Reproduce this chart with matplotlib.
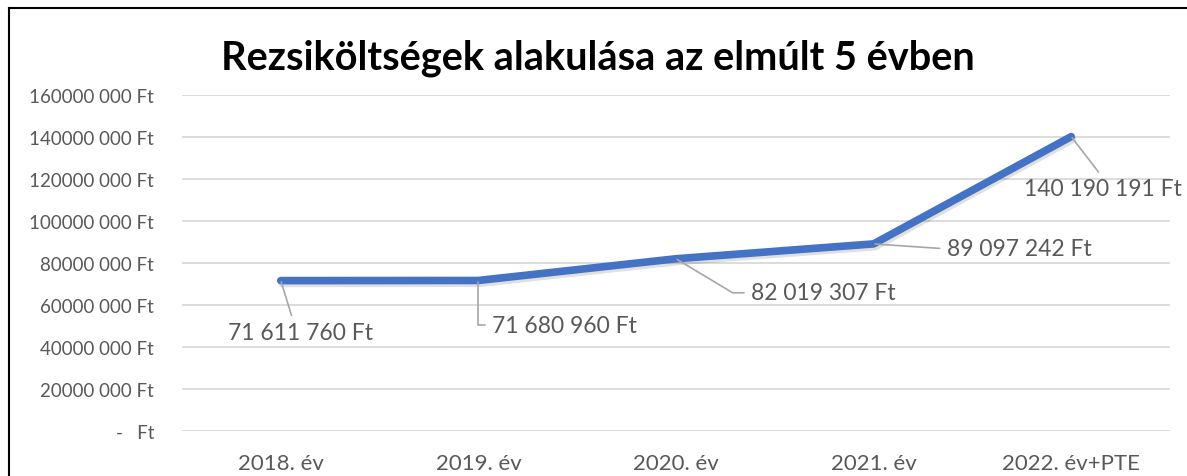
import numpy as np
import matplotlib
matplotlib.use("Agg")
import matplotlib.pyplot as plt
import matplotlib.patheffects as pe
from matplotlib.lines import Line2D

plt.rcParams.update({
    "font.family": ["Lato", "DejaVu Sans"],
    "figure.dpi": 100,
})

# data
years = ["2018. év", "2019. év", "2020. év", "2021. év", "2022. év+PTE"]
costs = [71611760, 71680960, 82019307, 89097242, 140190191]
cost_labels = ["71 611 760 Ft", "71 680 960 Ft", "82 019 307 Ft",
               "89 097 242 Ft", "140 190 191 Ft"]
y_ticks = [0, 20e6, 40e6, 60e6, 80e6, 100e6, 120e6, 140e6, 160e6]
y_tick_labels = ["-   Ft", "20000 000 Ft", "40000 000 Ft", "60000 000 Ft",
                 "80000 000 Ft", "100000 000 Ft", "120000 000 Ft",
                 "140000 000 Ft", "160000 000 Ft"]

# label placement: (offset px, horizontal align, relpos, connection style)
label_style = [
    ((20, -52), "center", (0.45, 1.0), "arc3"),
    ((14, -45), "left", (0.0, 0.5), "angle,angleA=0,angleB=90,rad=0"),
    ((75, -34), "left", (0.0, 0.5), "angle,angleA=0,angleB=-31,rad=0"),
    ((73, -5), "left", (0.0, 0.5), "arc3"),
    ((32, -52), "center", (0.5, 1.0), "arc3"),
]

TXT = "#595959"
W, H = 1187, 477
fig = plt.figure(figsize=(W / 100, H / 100), dpi=100)
ax = fig.add_axes([182 / W, 1 - 432 / H, (1170 - 182) / W, (432 - 96) / H])

x = np.arange(len(years))
ax.plot(x, costs, color="#4472C4", lw=5.5, solid_capstyle="round",
        solid_joinstyle="round", zorder=3,
        path_effects=[pe.SimpleLineShadow(offset=(1, -2), shadow_color="k", alpha=0.12),
                      pe.Normal()])

for xi, yi, lab, (off, ha, rel, conn) in zip(x, costs, cost_labels, label_style):
    ax.annotate(lab, xy=(xi, yi), xytext=off, textcoords="offset pixels",
                ha=ha, va="center", fontsize=16.5, color=TXT,
                arrowprops=dict(arrowstyle="-", color="#A6A6A6", lw=1.2,
                                relpos=rel, shrinkA=3, shrinkB=1,
                                connectionstyle=conn))

ax.set_xlim(-0.5, len(years) - 0.5)
ax.set_ylim(0, 160e6)
ax.set_yticks(y_ticks)
ax.set_yticklabels(y_tick_labels)
ax.set_xticks(x)
ax.set_xticklabels(years)
ax.tick_params(axis="both", length=0, labelcolor=TXT)
ax.tick_params(axis="y", pad=20, labelsize=13.5)
ax.tick_params(axis="x", pad=16, labelsize=16)
ax.grid(axis="y", color="#D9D9D9", lw=1.3)
ax.set_axisbelow(True)
for s in ax.spines.values():
    s.set_visible(False)

fig.text(598 / W, 1 - 58 / H, "Rezsiköltségek alakulása az elmúlt 5 évben",
         ha="center", va="center", fontsize=28.6, fontweight="bold", color="black")

# outer frame (left and top edges visible)
fig.add_artist(Line2D([8.5 / W, 8.5 / W], [0, 1 - 9 / H], transform=fig.transFigure,
                      color="black", lw=1.5))
fig.add_artist(Line2D([8.5 / W, 1], [1 - 9 / H, 1 - 9 / H], transform=fig.transFigure,
                      color="black", lw=1.5))

fig.savefig("out.png", dpi=100)
